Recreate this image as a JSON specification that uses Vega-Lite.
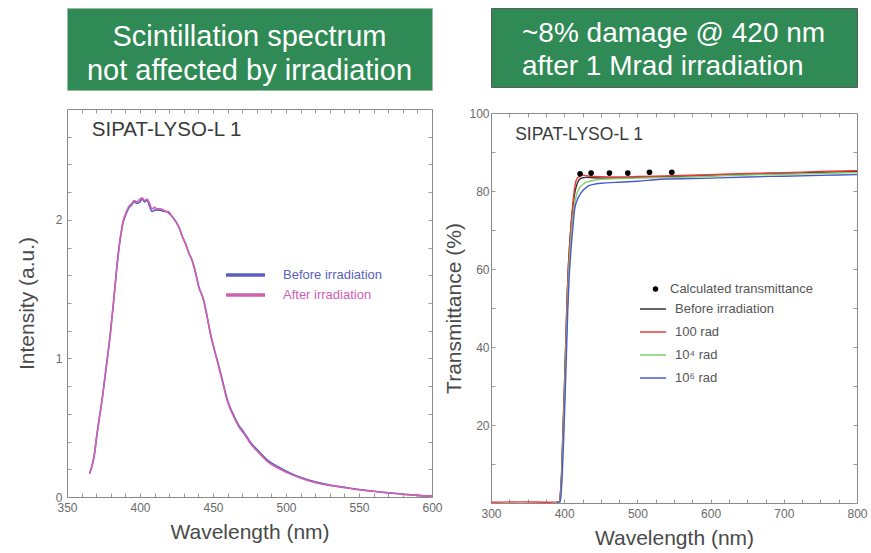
{
  "$schema": "https://vega.github.io/schema/vega-lite/v6.json",
  "background": "white",
  "padding": {"left": 16, "top": 7, "right": 2, "bottom": 2},
  "config": {
    "font": "Liberation Sans",
    "view": {"stroke": null},
    "axis": {
      "grid": false,
      "domainColor": "#8a8a8a",
      "domainWidth": 1,
      "tickColor": "#9a9a9a",
      "tickSize": -4,
      "labelColor": "#6a6a6a",
      "labelFontSize": 12,
      "labelFont": "Liberation Sans",
      "labelFlush": false,
      "labelOverlap": false,
      "labelBound": false,
      "titleColor": "#4a4a4a",
      "titleFontSize": 21,
      "titleFontWeight": "normal",
      "titleFont": "Liberation Sans"
    },
    "legend": {"labelFont": "Liberation Sans", "padding": 0}
  },
  "resolve": {"scale": {"color": "independent", "shape": "independent"}, "legend": {"color": "independent", "shape": "independent"}},
  "datasets": {
    "spectrum": [
      {"wl":365.5,"I":0.17,"s":"Before irradiation"},{"wl":367,"I":0.22,"s":"Before irradiation"},{"wl":368.5,"I":0.29,"s":"Before irradiation"},{"wl":370.5,"I":0.45,"s":"Before irradiation"},{"wl":372,"I":0.56,"s":"Before irradiation"},{"wl":374,"I":0.7,"s":"Before irradiation"},{"wl":376.9,"I":0.94,"s":"Before irradiation"},{"wl":379.7,"I":1.18,"s":"Before irradiation"},{"wl":382,"I":1.42,"s":"Before irradiation"},{"wl":383.8,"I":1.62,"s":"Before irradiation"},{"wl":385.4,"I":1.78,"s":"Before irradiation"},{"wl":387,"I":1.9,"s":"Before irradiation"},{"wl":388.4,"I":1.98,"s":"Before irradiation"},{"wl":390,"I":2.03,"s":"Before irradiation"},{"wl":392,"I":2.08,"s":"Before irradiation"},{"wl":394.5,"I":2.11,"s":"Before irradiation"},{"wl":396,"I":2.13,"s":"Before irradiation"},{"wl":398,"I":2.12,"s":"Before irradiation"},{"wl":400,"I":2.13,"s":"Before irradiation"},{"wl":401.5,"I":2.15,"s":"Before irradiation"},{"wl":403,"I":2.13,"s":"Before irradiation"},{"wl":404.8,"I":2.14,"s":"Before irradiation"},{"wl":406.5,"I":2.1,"s":"Before irradiation"},{"wl":408.2,"I":2.06,"s":"Before irradiation"},{"wl":410,"I":2.07,"s":"Before irradiation"},{"wl":411.6,"I":2.07,"s":"Before irradiation"},{"wl":414,"I":2.07,"s":"Before irradiation"},{"wl":416.2,"I":2.06,"s":"Before irradiation"},{"wl":418,"I":2.06,"s":"Before irradiation"},{"wl":419.6,"I":2.05,"s":"Before irradiation"},{"wl":421.5,"I":2.03,"s":"Before irradiation"},{"wl":423.1,"I":2.01,"s":"Before irradiation"},{"wl":426.5,"I":1.95,"s":"Before irradiation"},{"wl":429,"I":1.88,"s":"Before irradiation"},{"wl":431.1,"I":1.83,"s":"Before irradiation"},{"wl":433.5,"I":1.76,"s":"Before irradiation"},{"wl":435.6,"I":1.71,"s":"Before irradiation"},{"wl":438,"I":1.62,"s":"Before irradiation"},{"wl":440.2,"I":1.52,"s":"Before irradiation"},{"wl":443.6,"I":1.42,"s":"Before irradiation"},{"wl":446,"I":1.3,"s":"Before irradiation"},{"wl":448.2,"I":1.18,"s":"Before irradiation"},{"wl":451,"I":1.06,"s":"Before irradiation"},{"wl":453.9,"I":0.95,"s":"Before irradiation"},{"wl":457,"I":0.82,"s":"Before irradiation"},{"wl":459.6,"I":0.71,"s":"Before irradiation"},{"wl":462,"I":0.64,"s":"Before irradiation"},{"wl":464.2,"I":0.59,"s":"Before irradiation"},{"wl":467.5,"I":0.52,"s":"Before irradiation"},{"wl":471,"I":0.47,"s":"Before irradiation"},{"wl":476,"I":0.39,"s":"Before irradiation"},{"wl":481.3,"I":0.33,"s":"Before irradiation"},{"wl":488,"I":0.26,"s":"Before irradiation"},{"wl":496.1,"I":0.21,"s":"Before irradiation"},{"wl":503,"I":0.172,"s":"Before irradiation"},{"wl":509.8,"I":0.142,"s":"Before irradiation"},{"wl":516,"I":0.12,"s":"Before irradiation"},{"wl":523.5,"I":0.1,"s":"Before irradiation"},{"wl":532,"I":0.083,"s":"Before irradiation"},{"wl":541.8,"I":0.067,"s":"Before irradiation"},{"wl":550,"I":0.054,"s":"Before irradiation"},{"wl":560,"I":0.042,"s":"Before irradiation"},{"wl":570,"I":0.031,"s":"Before irradiation"},{"wl":582.9,"I":0.018,"s":"Before irradiation"},{"wl":590,"I":0.012,"s":"Before irradiation"},{"wl":600,"I":0.006,"s":"Before irradiation"},
      {"wl":365.5,"I":0.17,"s":"After irradiation"},{"wl":367,"I":0.22,"s":"After irradiation"},{"wl":368.5,"I":0.29,"s":"After irradiation"},{"wl":370.5,"I":0.45,"s":"After irradiation"},{"wl":372,"I":0.56,"s":"After irradiation"},{"wl":374,"I":0.7,"s":"After irradiation"},{"wl":376.9,"I":0.94,"s":"After irradiation"},{"wl":379.7,"I":1.18,"s":"After irradiation"},{"wl":382,"I":1.42,"s":"After irradiation"},{"wl":383.8,"I":1.62,"s":"After irradiation"},{"wl":385.4,"I":1.78,"s":"After irradiation"},{"wl":387,"I":1.9,"s":"After irradiation"},{"wl":388.4,"I":1.99,"s":"After irradiation"},{"wl":390,"I":2.04,"s":"After irradiation"},{"wl":392,"I":2.09,"s":"After irradiation"},{"wl":394.5,"I":2.12,"s":"After irradiation"},{"wl":396,"I":2.14,"s":"After irradiation"},{"wl":398,"I":2.13,"s":"After irradiation"},{"wl":400,"I":2.15,"s":"After irradiation"},{"wl":401.5,"I":2.16,"s":"After irradiation"},{"wl":403,"I":2.14,"s":"After irradiation"},{"wl":404.8,"I":2.15,"s":"After irradiation"},{"wl":406.5,"I":2.12,"s":"After irradiation"},{"wl":408.2,"I":2.08,"s":"After irradiation"},{"wl":410,"I":2.09,"s":"After irradiation"},{"wl":411.6,"I":2.08,"s":"After irradiation"},{"wl":414,"I":2.08,"s":"After irradiation"},{"wl":416.2,"I":2.07,"s":"After irradiation"},{"wl":418,"I":2.06,"s":"After irradiation"},{"wl":419.6,"I":2.06,"s":"After irradiation"},{"wl":421.5,"I":2.03,"s":"After irradiation"},{"wl":423.1,"I":2.01,"s":"After irradiation"},{"wl":426.5,"I":1.95,"s":"After irradiation"},{"wl":429,"I":1.88,"s":"After irradiation"},{"wl":431.1,"I":1.83,"s":"After irradiation"},{"wl":433.5,"I":1.76,"s":"After irradiation"},{"wl":435.6,"I":1.71,"s":"After irradiation"},{"wl":438,"I":1.62,"s":"After irradiation"},{"wl":440.2,"I":1.52,"s":"After irradiation"},{"wl":443.6,"I":1.42,"s":"After irradiation"},{"wl":446,"I":1.3,"s":"After irradiation"},{"wl":448.2,"I":1.18,"s":"After irradiation"},{"wl":451,"I":1.06,"s":"After irradiation"},{"wl":453.9,"I":0.94,"s":"After irradiation"},{"wl":457,"I":0.81,"s":"After irradiation"},{"wl":459.6,"I":0.7,"s":"After irradiation"},{"wl":462,"I":0.63,"s":"After irradiation"},{"wl":464.2,"I":0.58,"s":"After irradiation"},{"wl":467.5,"I":0.51,"s":"After irradiation"},{"wl":471,"I":0.46,"s":"After irradiation"},{"wl":476,"I":0.38,"s":"After irradiation"},{"wl":481.3,"I":0.32,"s":"After irradiation"},{"wl":488,"I":0.25,"s":"After irradiation"},{"wl":496.1,"I":0.2,"s":"After irradiation"},{"wl":503,"I":0.165,"s":"After irradiation"},{"wl":509.8,"I":0.137,"s":"After irradiation"},{"wl":516,"I":0.115,"s":"After irradiation"},{"wl":523.5,"I":0.096,"s":"After irradiation"},{"wl":532,"I":0.08,"s":"After irradiation"},{"wl":541.8,"I":0.065,"s":"After irradiation"},{"wl":550,"I":0.052,"s":"After irradiation"},{"wl":560,"I":0.041,"s":"After irradiation"},{"wl":570,"I":0.03,"s":"After irradiation"},{"wl":582.9,"I":0.017,"s":"After irradiation"},{"wl":590,"I":0.012,"s":"After irradiation"},{"wl":600,"I":0.005,"s":"After irradiation"}
    ],
    "trans": [
      {"wl":390,"T":0.3,"s":"Before irradiation"},{"wl":393.5,"T":0.3,"s":"Before irradiation"},{"wl":395,"T":3,"s":"Before irradiation"},{"wl":396.5,"T":8,"s":"Before irradiation"},{"wl":398,"T":17,"s":"Before irradiation"},{"wl":400,"T":28,"s":"Before irradiation"},{"wl":402.5,"T":43.5,"s":"Before irradiation"},{"wl":404,"T":53,"s":"Before irradiation"},{"wl":405.7,"T":60.6,"s":"Before irradiation"},{"wl":408.5,"T":69,"s":"Before irradiation"},{"wl":411.7,"T":75.5,"s":"Before irradiation"},{"wl":414,"T":79,"s":"Before irradiation"},{"wl":417,"T":81.5,"s":"Before irradiation"},{"wl":421,"T":83,"s":"Before irradiation"},{"wl":425,"T":83.4,"s":"Before irradiation"},{"wl":430,"T":83.5,"s":"Before irradiation"},{"wl":440,"T":83.4,"s":"Before irradiation"},{"wl":460,"T":83.3,"s":"Before irradiation"},{"wl":480,"T":83.4,"s":"Before irradiation"},{"wl":500,"T":83.5,"s":"Before irradiation"},{"wl":550,"T":83.7,"s":"Before irradiation"},{"wl":600,"T":84,"s":"Before irradiation"},{"wl":650,"T":84.3,"s":"Before irradiation"},{"wl":700,"T":84.5,"s":"Before irradiation"},{"wl":750,"T":84.8,"s":"Before irradiation"},{"wl":800,"T":85,"s":"Before irradiation"},
      {"wl":300,"T":0.2,"s":"100 rad"},{"wl":340,"T":0.3,"s":"100 rad"},{"wl":380,"T":0.2,"s":"100 rad"},{"wl":393,"T":0.3,"s":"100 rad"},{"wl":395,"T":2.5,"s":"100 rad"},{"wl":396.5,"T":7.5,"s":"100 rad"},{"wl":398,"T":16.5,"s":"100 rad"},{"wl":400,"T":27.5,"s":"100 rad"},{"wl":402.5,"T":43,"s":"100 rad"},{"wl":404,"T":52.5,"s":"100 rad"},{"wl":405.7,"T":60.5,"s":"100 rad"},{"wl":408.5,"T":69,"s":"100 rad"},{"wl":411.7,"T":76.5,"s":"100 rad"},{"wl":414,"T":80.5,"s":"100 rad"},{"wl":417,"T":83,"s":"100 rad"},{"wl":421,"T":83.8,"s":"100 rad"},{"wl":425,"T":84.1,"s":"100 rad"},{"wl":430,"T":83.9,"s":"100 rad"},{"wl":440,"T":83.7,"s":"100 rad"},{"wl":460,"T":83.6,"s":"100 rad"},{"wl":480,"T":83.6,"s":"100 rad"},{"wl":500,"T":83.7,"s":"100 rad"},{"wl":550,"T":83.9,"s":"100 rad"},{"wl":600,"T":84.2,"s":"100 rad"},{"wl":650,"T":84.5,"s":"100 rad"},{"wl":700,"T":84.7,"s":"100 rad"},{"wl":750,"T":85,"s":"100 rad"},{"wl":800,"T":85.2,"s":"100 rad"},
      {"wl":390,"T":0.3,"s":"10⁴ rad"},{"wl":394,"T":0.3,"s":"10⁴ rad"},{"wl":395.5,"T":3,"s":"10⁴ rad"},{"wl":397,"T":8,"s":"10⁴ rad"},{"wl":398.5,"T":16,"s":"10⁴ rad"},{"wl":400.5,"T":27,"s":"10⁴ rad"},{"wl":403,"T":42,"s":"10⁴ rad"},{"wl":404.5,"T":51,"s":"10⁴ rad"},{"wl":406.2,"T":59,"s":"10⁴ rad"},{"wl":409,"T":67,"s":"10⁴ rad"},{"wl":412,"T":73.5,"s":"10⁴ rad"},{"wl":414.5,"T":77,"s":"10⁴ rad"},{"wl":417.6,"T":79.5,"s":"10⁴ rad"},{"wl":421,"T":80.8,"s":"10⁴ rad"},{"wl":427.6,"T":82,"s":"10⁴ rad"},{"wl":435,"T":82.5,"s":"10⁴ rad"},{"wl":450,"T":83,"s":"10⁴ rad"},{"wl":480,"T":83.2,"s":"10⁴ rad"},{"wl":500,"T":83.3,"s":"10⁴ rad"},{"wl":550,"T":83.5,"s":"10⁴ rad"},{"wl":600,"T":83.8,"s":"10⁴ rad"},{"wl":650,"T":84.1,"s":"10⁴ rad"},{"wl":700,"T":84.3,"s":"10⁴ rad"},{"wl":750,"T":84.5,"s":"10⁴ rad"},{"wl":800,"T":84.7,"s":"10⁴ rad"},
      {"wl":390,"T":0.3,"s":"10⁶ rad"},{"wl":394.5,"T":0.3,"s":"10⁶ rad"},{"wl":396,"T":3,"s":"10⁶ rad"},{"wl":397.5,"T":8,"s":"10⁶ rad"},{"wl":399,"T":15,"s":"10⁶ rad"},{"wl":401,"T":26,"s":"10⁶ rad"},{"wl":403.5,"T":41,"s":"10⁶ rad"},{"wl":405,"T":50,"s":"10⁶ rad"},{"wl":406.8,"T":58,"s":"10⁶ rad"},{"wl":409.5,"T":65.5,"s":"10⁶ rad"},{"wl":412,"T":71,"s":"10⁶ rad"},{"wl":414,"T":75,"s":"10⁶ rad"},{"wl":418,"T":77.8,"s":"10⁶ rad"},{"wl":423,"T":79.5,"s":"10⁶ rad"},{"wl":432,"T":81.2,"s":"10⁶ rad"},{"wl":440,"T":81.7,"s":"10⁶ rad"},{"wl":450,"T":82,"s":"10⁶ rad"},{"wl":480,"T":82.3,"s":"10⁶ rad"},{"wl":500,"T":82.5,"s":"10⁶ rad"},{"wl":532,"T":83,"s":"10⁶ rad"},{"wl":600,"T":83.3,"s":"10⁶ rad"},{"wl":650,"T":83.6,"s":"10⁶ rad"},{"wl":700,"T":83.8,"s":"10⁶ rad"},{"wl":750,"T":84,"s":"10⁶ rad"},{"wl":800,"T":84.2,"s":"10⁶ rad"}
    ],
    "calc": [
      {"wl":421.7,"T":84.4},{"wl":436.7,"T":84.6},{"wl":461.8,"T":84.6},{"wl":486.9,"T":84.6},{"wl":516.5,"T":84.8},{"wl":547,"T":84.8}
    ]
  },
  "spacing": 0,
  "hconcat": [
    {
      "spacing": 12,
      "resolve": {"scale": {"color": "independent", "shape": "independent"}, "legend": {"color": "independent", "shape": "independent"}},
      "vconcat": [
        {
          "width": 365,
          "height": 82,
          "view": {"fill": "#2f8a55", "stroke": "#9ab8a4"},
          "data": {"values": [{"line": 1, "text": "Scintillation spectrum"}, {"line": 2, "text": "not affected by irradiation"}]},
          "mark": {"type": "text", "color": "white", "fontSize": 29, "font": "Liberation Sans", "align": "center", "baseline": "middle", "dy": 5},
          "encoding": {
            "y": {"field": "line", "type": "ordinal", "axis": null, "scale": {"padding": 0.7}},
            "text": {"field": "text"}
          }
        },
        {
          "width": 365,
          "height": 388,
          "layer": [
            {
              "data": {"name": "spectrum"},
              "mark": {"type": "line", "strokeWidth": 1.6, "interpolate": "monotone"},
              "encoding": {
                "x": {"field": "wl", "type": "quantitative", "scale": {"domain": [350, 600], "nice": false, "zero": false},
                  "axis": {"orient": "bottom", "title": "Wavelength (nm)", "values": [350,360,370,380,390,400,410,420,430,440,450,460,470,480,490,500,510,520,530,540,550,560,570,580,590,600], "labelExpr": "datum.value % 50 === 0 ? format(datum.value, 'd') : ''", "labelPadding": 9, "titlePadding": 8}},
                "y": {"field": "I", "type": "quantitative", "scale": {"domain": [0, 2.8], "nice": false},
                  "axis": {"orient": "left", "title": "Intensity (a.u.)", "values": [0,0.2,0.4,0.6,0.8,1,1.2,1.4,1.6,1.8,2,2.2,2.4,2.6,2.8], "labelExpr": "datum.value % 1 === 0 ? format(datum.value, 'd') : ''", "labelPadding": 9, "titlePadding": 18}},
                "color": {"field": "s", "type": "nominal", "sort": ["Before irradiation", "After irradiation"],
                  "scale": {"domain": ["Before irradiation", "After irradiation"], "range": ["#5a5fc0", "#d060b0"]},
                  "legend": {"orient": "none", "legendX": 157, "legendY": 158, "title": null, "symbolType": "stroke", "symbolSize": 1521, "symbolStrokeWidth": 3.5, "labelFontSize": 13, "labelOffset": 16, "clipHeight": 16, "rowPadding": 4,
                    "encode": {"labels": {"update": {"fill": {"signal": "datum.value === 'Before irradiation' ? '#5a5fc0' : '#d060b0'"}}}}}}
              }
            },
            {
              "data": {"values": [{"label": "SIPAT-LYSO-L 1"}]},
              "mark": {"type": "text", "align": "left", "baseline": "middle", "fontSize": 20.5, "color": "#3a3a3a"},
              "encoding": {
                "x": {"datum": 367, "type": "quantitative", "axis": {"orient": "top", "labels": false, "title": null, "values": [350,360,370,380,390,400,410,420,430,440,450,460,470,480,490,500,510,520,530,540,550,560,570,580,590,600]}},
                "y": {"datum": 2.65, "type": "quantitative", "axis": {"orient": "right", "labels": false, "title": null, "values": [0,0.2,0.4,0.6,0.8,1,1.2,1.4,1.6,1.8,2,2.2,2.4,2.6,2.8]}},
                "text": {"field": "label"}
              }
            }
          ],
          "resolve": {"axis": {"x": "independent", "y": "independent"}}
        }
      ]
    },
    {
      "spacing": 19,
      "resolve": {"scale": {"color": "independent", "shape": "independent"}, "legend": {"color": "independent", "shape": "independent"}},
      "vconcat": [
        {
          "width": 366,
          "height": 79,
          "view": {"fill": "#2f8a55", "stroke": "#5a5a5a"},
          "data": {"values": [{"line": 1, "text": "~8% damage @ 420 nm"}, {"line": 2, "text": "after 1 Mrad irradiation"}]},
          "mark": {"type": "text", "color": "white", "fontSize": 28, "font": "Liberation Sans", "align": "left", "baseline": "middle", "dy": 3, "dx": -152},
          "encoding": {
            "y": {"field": "line", "type": "ordinal", "axis": null, "scale": {"padding": 0.7}},
            "text": {"field": "text"}
          }
        },
        {
          "width": 366,
          "height": 390,
          "layer": [
            {
              "data": {"name": "trans"},
              "mark": {"type": "line", "strokeWidth": 1.4, "interpolate": "monotone"},
              "encoding": {
                "x": {"field": "wl", "type": "quantitative", "scale": {"domain": [300, 800], "nice": false, "zero": false},
                  "axis": {"orient": "bottom", "title": "Wavelength (nm)", "values": [300,325,350,375,400,425,450,475,500,525,550,575,600,625,650,675,700,725,750,775,800], "labelExpr": "datum.value % 100 === 0 ? format(datum.value, 'd') : ''", "labelPadding": 9, "titlePadding": 8}},
                "y": {"field": "T", "type": "quantitative", "scale": {"domain": [0, 100], "nice": false},
                  "axis": {"orient": "left", "title": "Transmittance (%)", "values": [0,10,20,30,40,50,60,70,80,90,100], "labelExpr": "datum.value > 0 && datum.value % 20 === 0 ? format(datum.value, 'd') : ''", "labelPadding": 6, "titlePadding": 4}},
                "color": {"field": "s", "type": "nominal",
                  "scale": {"domain": ["Before irradiation", "100 rad", "10⁴ rad", "10⁶ rad"], "range": ["#333333", "#e83a3a", "#7fd06a", "#4a58d0"]},
                  "legend": {"orient": "none", "legendX": 148, "legendY": 188, "title": null, "symbolType": "stroke", "symbolSize": 676, "symbolStrokeWidth": 1.5, "labelFontSize": 13, "labelColor": "#555", "labelOffset": 8, "clipHeight": 16, "rowPadding": 7}}
              }
            },
            {
              "data": {"name": "calc"},
              "mark": {"type": "point", "filled": true, "color": "black", "size": 32, "opacity": 1},
              "encoding": {
                "x": {"field": "wl", "type": "quantitative", "axis": {"orient": "top", "labels": false, "title": null, "values": [300,325,350,375,400,425,450,475,500,525,550,575,600,625,650,675,700,725,750,775,800]}},
                "y": {"field": "T", "type": "quantitative", "axis": {"orient": "right", "labels": false, "title": null, "values": [0,10,20,30,40,50,60,70,80,90,100]}},
                "shape": {"datum": "Calculated transmittance", "type": "nominal", "scale": {"range": ["circle"]},
                  "legend": {"orient": "none", "legendX": 158, "legendY": 168, "title": null, "symbolFillColor": "black", "symbolStrokeColor": "black", "symbolSize": 30, "labelFontSize": 13, "labelColor": "#555", "labelOffset": 8, "clipHeight": 16}}
              }
            },
            {
              "data": {"values": [{"label": "SIPAT-LYSO-L 1"}]},
              "mark": {"type": "text", "align": "left", "baseline": "middle", "fontSize": 17.5, "color": "#3a3a3a"},
              "encoding": {
                "x": {"datum": 333, "type": "quantitative", "axis": null},
                "y": {"datum": 94.4, "type": "quantitative", "axis": null},
                "text": {"field": "label"}
              }
            }
          ],
          "resolve": {"axis": {"x": "independent", "y": "independent"}}
        }
      ]
    }
  ]
}
